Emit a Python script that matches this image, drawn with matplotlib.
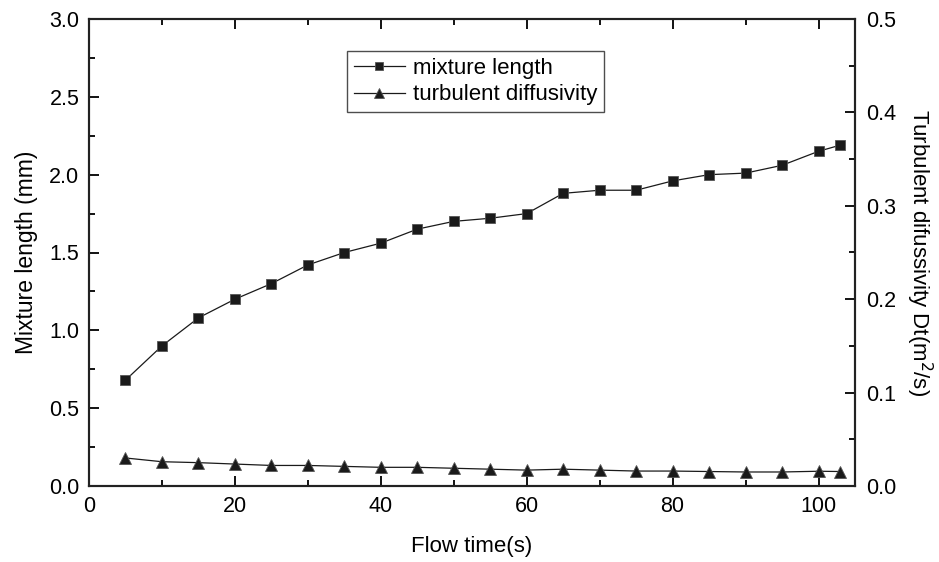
import matplotlib.pyplot as plt
from matplotlib.ticker import MultipleLocator

plt.rcParams['font.family'] = ['Liberation Sans', 'DejaVu Sans']

flow_time = [5, 10, 15, 20, 25, 30, 35, 40, 45, 50, 55, 60, 65, 70, 75, 80, 85, 90, 95, 100, 103]
mixture_length = [0.68, 0.90, 1.08, 1.20, 1.30, 1.42, 1.50, 1.56, 1.65, 1.70, 1.72, 1.75,
                  1.88, 1.90, 1.90, 1.96, 2.00, 2.01, 2.06, 2.15, 2.19]
turb_diff = [0.030, 0.026, 0.025, 0.0235, 0.022, 0.022, 0.021, 0.020, 0.020, 0.019, 0.018,
             0.017, 0.018, 0.017, 0.016, 0.016, 0.0155, 0.015, 0.015, 0.0158, 0.0155]

fig = plt.figure(figsize=(9.39, 5.62), dpi=100)
ax = fig.add_axes([89 / 939, 1 - 486 / 562, (855 - 89) / 939, (486 - 19) / 562])
ax2 = ax.twinx()

col = '#1a1a1a'
l1, = ax.plot(flow_time, mixture_length, '-', color=col, lw=0.9, marker='s', markersize=7.5,
              markeredgecolor='#555555', markeredgewidth=0.6, label='mixture length')
l2, = ax2.plot(flow_time, turb_diff, '-', color=col, lw=0.9, marker='^', markersize=8.5,
               markeredgecolor='#555555', markeredgewidth=0.6, label='turbulent diffusivity')

ax.set_xlim(0, 105)
ax.set_ylim(0, 3.0)
ax2.set_ylim(0, 0.5)

ax.xaxis.set_major_locator(MultipleLocator(20))
ax.xaxis.set_minor_locator(MultipleLocator(10))
ax.yaxis.set_major_locator(MultipleLocator(0.5))
ax.yaxis.set_minor_locator(MultipleLocator(0.25))
ax2.yaxis.set_major_locator(MultipleLocator(0.1))
ax2.yaxis.set_minor_locator(MultipleLocator(0.05))

ax.tick_params(axis='both', which='major', direction='in', length=7, width=1.3,
               labelsize=15.5, pad=7, top=True)
ax.tick_params(axis='both', which='minor', direction='in', length=4, width=1.3, top=True)
ax.tick_params(axis='y', right=False, which='both')
ax2.tick_params(axis='y', which='major', direction='in', length=7, width=1.3,
                labelsize=15.5, pad=8)
ax2.tick_params(axis='y', which='minor', direction='in', length=4, width=1.3)

for a in (ax, ax2):
    for s in a.spines.values():
        s.set_linewidth(1.5)
        s.set_color('#222222')

ax.set_yticklabels(['%.1f' % v for v in ax.get_yticks()])
ax2.set_yticklabels(['%.1f' % v for v in ax2.get_yticks()])

ax.set_xlabel('Flow time(s)', fontsize=16, labelpad=14)
ax.set_ylabel('Mixture length (mm)', fontsize=16.5, labelpad=8)
ax2.set_ylabel('Turbulent difussivity Dt(m$^2$/s)', fontsize=16, rotation=270, labelpad=27)

leg = ax2.legend(handles=[l1, l2], loc='upper left', bbox_to_anchor=(0.337, 0.931),
                 borderaxespad=0, fontsize=16, frameon=True, fancybox=False,
                 edgecolor='#222222', handlelength=2.3, borderpad=0.3, labelspacing=0.25,
                 handletextpad=0.35, markerscale=0.85)
leg.get_frame().set_linewidth(1.0)

fig.savefig('out.png', dpi=100)
